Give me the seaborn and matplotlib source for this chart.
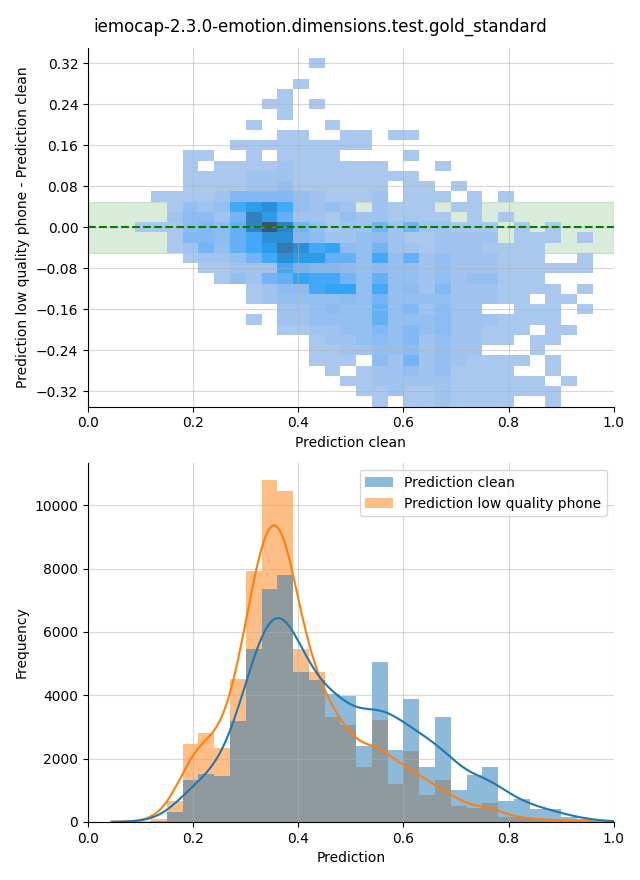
import numpy as np
import pandas as pd
import matplotlib
matplotlib.use("Agg")
import matplotlib.pyplot as plt
import seaborn as sns

title = "iemocap-2.3.0-emotion.dimensions.test.gold_standard"
label_clean = "Prediction clean"
label_phone = "Prediction low quality phone"

# 2d histogram: x = prediction clean, y = phone - clean
x_edges = np.linspace(0.09, 0.96, 30)
y_edges = np.linspace(-0.35, 0.33, 35)
# one string per y bin, top row is y = 0.32; one char per x bin
shift_rows = [
    "...........1.................",
    ".............................",
    "..........1..................",
    ".........1...................",
    "........11.1.................",
    ".........1...................",
    ".......1....1................",
    ".........11..11.11...........",
    "......111111111..............",
    "...11..1.1111....1...........",
    "...1.11112111111...1.........",
    "...111122211111111...........",
    "...1111223111111.11.1........",
    ".111125555321112.111.1.1.....",
    "..13238ab83232.2111.11.......",
    "..24426ca72213221111.1.1.....",
    "1114547cec6312262622111.1.1..",
    "..155478bb5422342112222.111.1",
    "..126378adb894362212221111...",
    "...122368baa77383723222111..1",
    "....1122286554343323222111111",
    ".....132679886373323233111...",
    ".......12448993834252221111.1",
    ".......123333436333322211.11.",
    ".........2234337352422..111.1",
    ".......1.223333733342221111..",
    ".........1122335353422111.11.",
    "...........1223435232211.11..",
    "...........11223342322...1...",
    "...........111.4262321111.1..",
    "............1.1223231111..1..",
    ".............1122222111111.1.",
    "..............1121121111111..",
    "...............1.1121111..1..",
]
level_counts = {"1": 1, "2": 5, "3": 9, "4": 12, "5": 15, "6": 19, "7": 23,
                "8": 30, "9": 34, "a": 41, "b": 51, "c": 62, "d": 69, "e": 100}

# 1d histograms of both predictions, bins of 0.03 from 0.03 to 1.02
hist_range = (0.03, 1.02)
counts_clean = [1, 2, 10, 40, 305, 1330, 1520, 1455, 3195, 5475, 7370, 7815,
                4750, 4470, 4050, 3990, 2385, 5060, 2280, 3890, 1750, 3320,
                1010, 1485, 1750, 665, 720, 410, 410, 170, 90, 30, 5]
counts_phone = [3, 6, 20, 90, 665, 2470, 2815, 2340, 4525, 7940, 10790, 10440,
                5475, 4750, 3330, 3050, 1750, 3230, 1200, 2250, 855, 1330,
                505, 455, 610, 140, 140, 80, 60, 40, 20, 10, 2]

xc = (x_edges[:-1] + x_edges[1:]) / 2
yc = (y_edges[:-1] + y_edges[1:]) / 2
cells = []
for i, row in enumerate(shift_rows):
    for j, ch in enumerate(row):
        if ch != ".":
            cells.append((xc[j], yc[-1 - i], level_counts[ch]))
cells = pd.DataFrame(cells, columns=["clean", "diff", "n"])

n_bins = len(counts_clean)
hist_edges = np.linspace(*hist_range, n_bins + 1)
centers = (hist_edges[:-1] + hist_edges[1:]) / 2
pred = pd.DataFrame({
    "Prediction": np.concatenate([centers, centers]),
    "n": counts_clean + counts_phone,
    "series": [label_clean] * n_bins + [label_phone] * n_bins,
})

fig, (ax1, ax2) = plt.subplots(2, 1, figsize=(6.4, 8.8))
fig.subplots_adjust(left=0.1375, right=0.959, top=0.9455, bottom=0.066, hspace=0.158)

# top: difference vs clean prediction
ax1.axhspan(-0.05, 0.05, color="green", alpha=0.15, zorder=0)
sns.histplot(data=cells, x="clean", y="diff", weights="n",
             bins=[x_edges, y_edges], ax=ax1)
ax1.axhline(0, color="green", linestyle="--", linewidth=1.5)
ax1.set_xlim(0, 1)
ax1.set_ylim(-0.35, 0.35)
ax1.set_yticks(np.arange(-0.32, 0.33, 0.08))
ax1.set_xlabel(label_clean)
ax1.set_ylabel(label_phone + " - " + label_clean)
ax1.grid(alpha=0.5)

# bottom: distributions of both predictions
sns.histplot(data=pred, x="Prediction", weights="n", hue="series",
             bins=n_bins, binrange=hist_range, kde=True, linewidth=0,
             kde_kws=dict(bw_method=0.23), ax=ax2)
ax2.set_xlim(0, 1)
ax2.set_xlabel("Prediction")
ax2.set_ylabel("Frequency")
ax2.grid(alpha=0.5)
sns.move_legend(ax2, "upper right", title=None)

sns.despine(fig)
fig.suptitle(title, fontsize=12)
fig.savefig("out.png", dpi=100)
